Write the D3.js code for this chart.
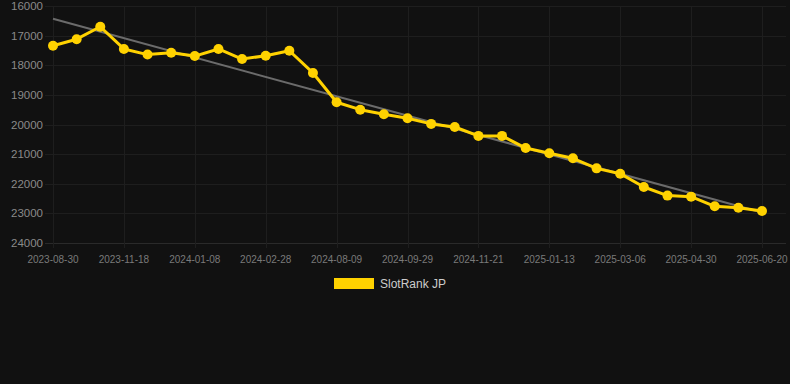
<!DOCTYPE html>
<html>
<head>
<meta charset="utf-8">
<script src="https://cdn.jsdelivr.net/npm/d3@7"></script>
<style>
  html, body { margin: 0; padding: 0; background: #111111; }
  svg { display: block; font-family: "Liberation Sans", Arial, sans-serif; }
</style>
</head>
<body>
<div id="chart"></div>
<script>
var w = 790;
var h = 384;

// categories (one per data point); only every third one gets a label
var dates = [
    "2023-08-30", "2023-09-26", "2023-10-23", "2023-11-18", "2023-12-05", "2023-12-22",
    "2024-01-08", "2024-01-25", "2024-02-11", "2024-02-28", "2024-04-21", "2024-06-15",
    "2024-08-09", "2024-08-26", "2024-09-12", "2024-09-29", "2024-10-16", "2024-11-03",
    "2024-11-21", "2024-12-08", "2024-12-26", "2025-01-13", "2025-01-30", "2025-02-17",
    "2025-03-06", "2025-03-24", "2025-04-12", "2025-04-30", "2025-05-17", "2025-06-03",
    "2025-06-20"
];

var ranks = [
    17340, 17120, 16700, 17450, 17640, 17580,
    17690, 17450, 17790, 17680, 17510, 18260,
    19250, 19500, 19655, 19790, 19980, 20085,
    20385, 20385, 20795, 20970, 21140, 21480,
    21660, 22110, 22400, 22435, 22760, 22810,
    22920
];

var yTicks = [16000, 17000, 18000, 19000, 20000, 21000, 22000, 23000, 24000];
var seriesName = "SlotRank JP";

var svg = d3.select("#chart")
    .append("svg")
    .attr("width", w)
    .attr("height", h)
    .style("background-color", "#111111");

var x = d3.scalePoint()
    .domain(dates)
    .range([53, 762]);

// rank axis: smaller number on top
var y = d3.scaleLinear()
    .domain([16000, 24000])
    .range([6, 243]);

var labelled = dates.filter(function(d, i) { return i % 3 === 0; });

// horizontal grid
svg.append("g")
    .selectAll("line")
    .data(yTicks)
    .enter()
    .append("line")
    .attr("x1", 45)
    .attr("x2", 786)
    .attr("y1", function(d) { return Math.round(y(d)) + 0.5; })
    .attr("y2", function(d) { return Math.round(y(d)) + 0.5; })
    .attr("stroke", function(d) { return d === 24000 ? "#2a2a2a" : "#1e1e1e"; })
    .attr("stroke-width", 1);

// vertical grid
svg.append("g")
    .selectAll("line")
    .data(labelled)
    .enter()
    .append("line")
    .attr("x1", function(d) { return Math.round(x(d)) + 0.5; })
    .attr("x2", function(d) { return Math.round(x(d)) + 0.5; })
    .attr("y1", 6)
    .attr("y2", 248)
    .attr("stroke", "#1e1e1e")
    .attr("stroke-width", 1);

// y labels
svg.append("g")
    .selectAll("text")
    .data(yTicks)
    .enter()
    .append("text")
    .attr("x", 43)
    .attr("y", function(d) { return y(d) + 4; })
    .attr("text-anchor", "end")
    .attr("fill", "#8a8a8a")
    .style("font-size", "11.5px")
    .text(function(d) { return d; });

// x labels
svg.append("g")
    .selectAll("text")
    .data(labelled)
    .enter()
    .append("text")
    .attr("x", function(d) { return x(d); })
    .attr("y", 263)
    .attr("text-anchor", "middle")
    .attr("fill", "#7a7a7a")
    .style("font-size", "10px")
    .text(function(d) { return d; });

// least squares trend line over the point index
var n = ranks.length;
var idx = d3.range(n);
var mx = d3.mean(idx);
var my = d3.mean(ranks);
var sxy = d3.sum(idx, function(i) { return (i - mx) * (ranks[i] - my); });
var sxx = d3.sum(idx, function(i) { return (i - mx) * (i - mx); });
var slope = sxy / sxx;
var icpt = my - slope * mx;

svg.append("line")
    .attr("x1", x(dates[0]))
    .attr("y1", y(icpt))
    .attr("x2", x(dates[n - 1]))
    .attr("y2", y(icpt + slope * (n - 1)))
    .attr("stroke", "#6b6b6b")
    .attr("stroke-width", 2);

var line = d3.line()
    .x(function(d, i) { return x(dates[i]); })
    .y(function(d) { return y(d); });

svg.append("path")
    .datum(ranks)
    .attr("d", line)
    .attr("fill", "none")
    .attr("stroke", "#ffd200")
    .attr("stroke-width", 3)
    .attr("stroke-linejoin", "round");

svg.append("g")
    .selectAll("circle")
    .data(ranks)
    .enter()
    .append("circle")
    .attr("cx", function(d, i) { return x(dates[i]); })
    .attr("cy", function(d) { return y(d); })
    .attr("r", 5)
    .attr("fill", "#ffd200");

// legend
var legend = svg.append("g");
legend.append("rect")
    .attr("x", 334)
    .attr("y", 278)
    .attr("width", 40)
    .attr("height", 11)
    .attr("fill", "#ffd200");
legend.append("text")
    .attr("x", 380)
    .attr("y", 288)
    .attr("fill", "#cccccc")
    .style("font-size", "12px")
    .text(seriesName);
</script>
</body>
</html>
